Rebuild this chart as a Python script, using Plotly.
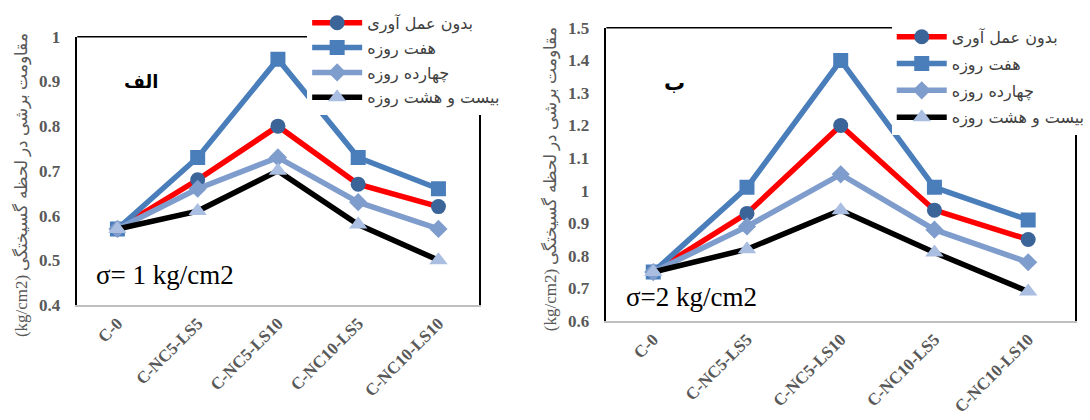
import plotly.graph_objects as go

categories = ["C-0", "C-NC5-LS5", "C-NC5-LS10", "C-NC10-LS5", "C-NC10-LS10"]
series_names = ["بدون عمل آوری", "هفت روزه", "چهارده روزه", "بیست و هشت روزه"]

# Left chart (sigma = 1 kg/cm2)
left_untreated = [0.57, 0.68, 0.80, 0.67, 0.62]
left_7day = [0.57, 0.73, 0.95, 0.73, 0.66]
left_14day = [0.57, 0.66, 0.73, 0.63, 0.57]
left_28day = [0.57, 0.61, 0.70, 0.58, 0.50]

# Right chart (sigma = 2 kg/cm2)
right_untreated = [0.75, 0.93, 1.20, 0.94, 0.85]
right_7day = [0.75, 1.01, 1.40, 1.01, 0.91]
right_14day = [0.75, 0.89, 1.05, 0.88, 0.78]
right_28day = [0.75, 0.82, 0.94, 0.81, 0.69]

left_label = "الف"
right_label = "ب"
left_sigma = "σ= 1 kg/cm2"
right_sigma = "σ=2 kg/cm2"
y_title = "(kg/cm2) مقاومت برشی در لحظه گسیختگی"

styles = [
    dict(line_color="#FF0000", marker_color="#3B6499", symbol="circle", size=15),
    dict(line_color="#4A7EBB", marker_color="#4A7EBB", symbol="square", size=15),
    dict(line_color="#7F9DCC", marker_color="#7F9DCC", symbol="diamond", size=14),
    dict(line_color="#000000", marker_color="#A9BEE0", symbol="triangle-up", size=16),
]

fig = go.Figure()

left_data = [left_untreated, left_7day, left_14day, left_28day]
right_data = [right_untreated, right_7day, right_14day, right_28day]

for i, (name, vals, st) in enumerate(zip(series_names, left_data, styles)):
    fig.add_trace(go.Scatter(
        x=categories, y=vals, name=name, mode="lines+markers",
        line=dict(color=st["line_color"], width=5.5),
        marker=dict(color=st["marker_color"], symbol=st["symbol"], size=st["size"], line=dict(width=0)),
        xaxis="x", yaxis="y", legend="legend", legendgroup="L%d" % i,
    ))
for i, (name, vals, st) in enumerate(zip(series_names, right_data, styles)):
    fig.add_trace(go.Scatter(
        x=categories, y=vals, name=name, mode="lines+markers",
        line=dict(color=st["line_color"], width=5.5),
        marker=dict(color=st["marker_color"], symbol=st["symbol"], size=st["size"], line=dict(width=0)),
        xaxis="x2", yaxis="y2", legend="legend2", legendgroup="R%d" % i,
    ))

W, H = 1090, 430
def px(x):
    return x / W
def py(y):
    # compensate vertical mapping of the capture
    v = (y - 8.1) / 0.959
    return 1 - v / H

tickfont = dict(family="Liberation Serif", size=17, color="#595959", weight="bold")
xtickfont = dict(family="Liberation Serif", size=17, color="#595959", weight="bold")

xcommon = dict(type="category", range=[-0.5, 4.5], showgrid=False, zeroline=False,
               showline=True, linecolor="#BFBFBF", linewidth=2, ticks="",
               tickangle=-45, tickfont=xtickfont)
ycommon = dict(showgrid=False, zeroline=False, showline=True, linecolor="#000000",
               linewidth=1.5, mirror=True, ticks="", tickfont=tickfont, dtick=0.1,
               ticklabelstandoff=12)

legfont = dict(family="DejaVu Sans", size=16, color="#404040")

fig.update_layout(
    width=W, height=H,
    margin=dict(l=0, r=0, t=0, b=0),
    paper_bgcolor="white", plot_bgcolor="white",
    xaxis=dict(domain=[px(78), px(483)], anchor="y", **xcommon),
    yaxis=dict(domain=[py(305), py(36)], anchor="x", range=[0.4, 1.0], **ycommon),
    xaxis2=dict(domain=[px(612), px(1085)], anchor="y2", **xcommon),
    yaxis2=dict(domain=[py(321), py(27)], anchor="x2", range=[0.6, 1.5], **ycommon),
    legend=dict(x=px(310), y=py(5), xanchor="left", yanchor="top", bgcolor="white",
                font=legfont, tracegroupgap=1, itemwidth=50),
    legend2=dict(x=px(900), y=py(19), xanchor="left", yanchor="top", bgcolor="white",
                 font=legfont, tracegroupgap=3, itemwidth=50),
    showlegend=True,
)

# top frame lines
for xr, yr in (("x domain", "y domain"), ("x2 domain", "y2 domain")):
    fig.add_shape(type="line", xref=xr, yref=yr, x0=0, x1=1, y0=1, y1=1,
                  line=dict(color="#000000", width=1.5), layer="above")

annots = [
    dict(x=px(142), y=py(81), text="<b>" + left_label + "</b>", font=dict(family="DejaVu Sans", size=18, color="#000")),
    dict(x=px(681), y=py(82), text="<b>" + right_label + "</b>", font=dict(family="DejaVu Sans", size=21, color="#000")),
    dict(x=px(95), y=py(275), text=left_sigma, xanchor="left", font=dict(family="Liberation Serif", size=27, color="#000")),
    dict(x=px(630), y=py(297), text=right_sigma, xanchor="left", font=dict(family="Liberation Serif", size=27, color="#000")),
    dict(x=px(22), y=py(184), text=y_title, textangle=-90, font=dict(family="Liberation Serif", size=17, color="#595959")),
    dict(x=px(555), y=py(178), text=y_title, textangle=-90, font=dict(family="Liberation Serif", size=17, color="#595959")),
]
for a in annots:
    a.setdefault("xanchor", "center")
    fig.add_annotation(xref="paper", yref="paper", showarrow=False, yanchor="middle", **a)

fig.write_html(
    "out.html",
    config={"displayModeBar": False},
    post_script="document.body.style.margin='0';document.body.style.overflow='hidden';",
)
